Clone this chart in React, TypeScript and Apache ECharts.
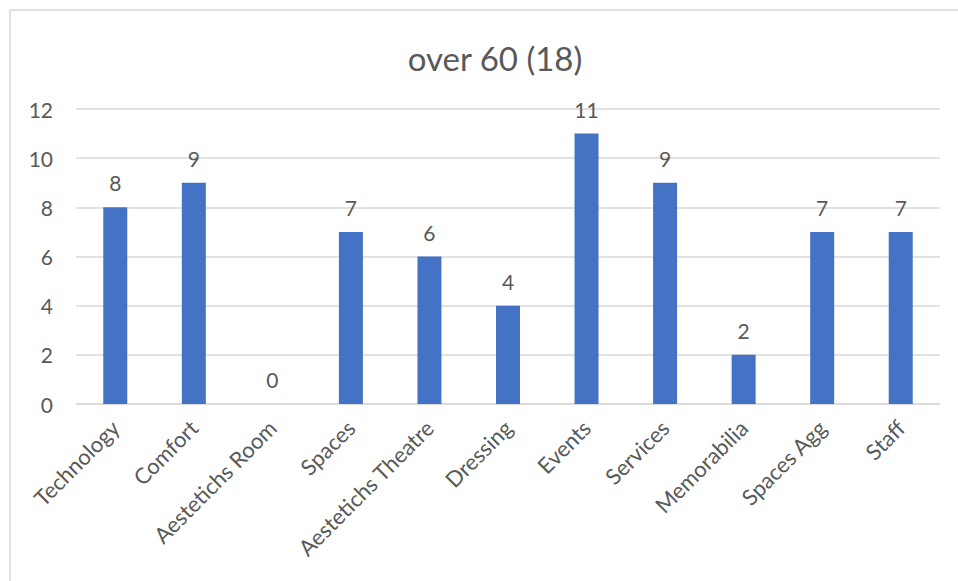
import React, { useEffect, useRef } from "react";
import * as echarts from "echarts";

const categories = [
  "Technology",
  "Comfort",
  "Aestetichs Room",
  "Spaces",
  "Aestetichs Theatre",
  "Dressing",
  "Events",
  "Services",
  "Memorabilia",
  "Spaces Agg",
  "Staff",
];
const values = [8, 9, 0, 7, 6, 4, 11, 9, 2, 7, 7];
const yTicks = [0, 2, 4, 6, 8, 10, 12];

const FONT = "Lato, 'Noto Sans', sans-serif";
const TEXT = "#595959";

export default function App() {
  const ref = useRef<HTMLDivElement>(null);

  useEffect(() => {
    if (!ref.current) return;
    const chart = echarts.init(ref.current, undefined, { renderer: "svg" });
    chart.setOption({
      animation: false,
      textStyle: { fontFamily: FONT },
      title: {
        text: "over 60 (18)",
        left: 490,
        top: 36,
        textAlign: "center",
        textStyle: { fontFamily: FONT, fontSize: 33, fontWeight: "normal", color: TEXT },
      },
      graphic: [
        {
          type: "rect",
          shape: { x: 10, y: 10, width: 970, height: 600 },
          style: { fill: "none", stroke: "#d9d9d9", lineWidth: 1.5 },
          silent: true,
        },
      ],
      grid: { left: 76, right: 18, top: 109, bottom: 177, containLabel: false },
      xAxis: {
        type: "category",
        data: categories,
        axisLine: { lineStyle: { color: "#d9d9d9", width: 1.5 } },
        axisTick: { show: false },
        axisLabel: {
          rotate: 45,
          interval: 0,
          color: TEXT,
          fontSize: 22,
          fontFamily: FONT,
          margin: 20,
        },
      },
      yAxis: {
        type: "value",
        min: yTicks[0],
        max: yTicks[yTicks.length - 1],
        interval: 2,
        axisLine: { show: false },
        axisTick: { show: false },
        splitLine: { lineStyle: { color: "#d9d9d9", width: 1.5 } },
        axisLabel: { color: TEXT, fontSize: 21, fontFamily: FONT, margin: 23 },
      },
      series: [
        {
          type: "bar",
          data: values,
          barWidth: 24,
          itemStyle: { color: "#4472C4" },
          label: {
            show: true,
            position: "top",
            distance: 14,
            color: TEXT,
            fontSize: 21,
            fontFamily: FONT,
          },
        },
      ],
    });
    return () => chart.dispose();
  }, []);

  return (
    <div
      ref={ref}
      style={{ position: "fixed", left: 0, top: 0, width: 958, height: 581, background: "#fff" }}
    />
  );
}
